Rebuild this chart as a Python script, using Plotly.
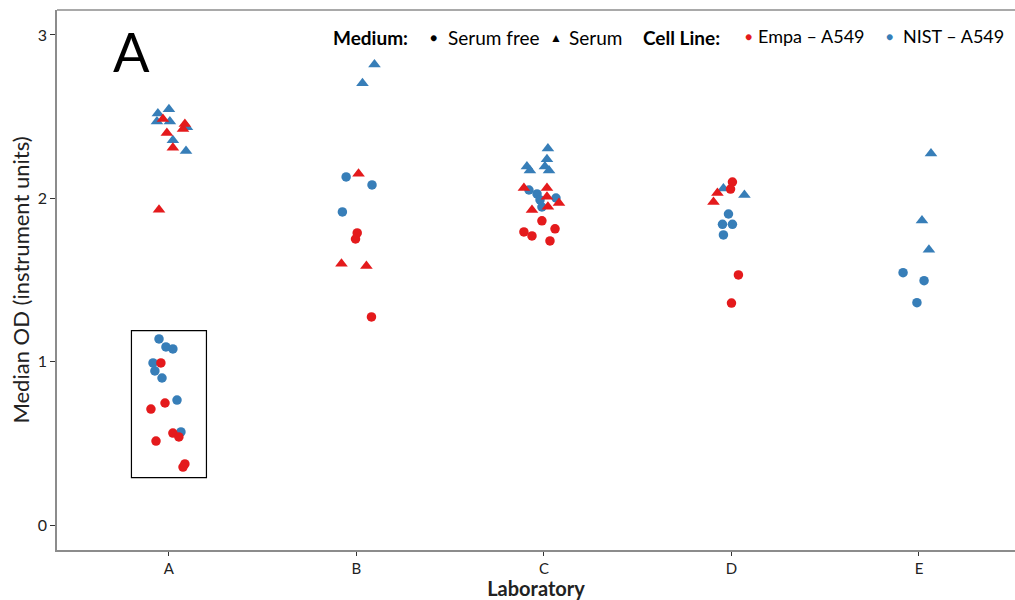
import plotly.graph_objects as go

labs = ["A", "B", "C", "D", "E"]

# NIST - A549, Serum (triangles)
nist_serum_lab = ["A","A","A","A","A","A","A","B","B","C","C","C","C","C","C","D","D","E","E","E"]
nist_serum_jit = [-0.059,0.0,-0.064,0.005,0.096,0.021,0.091,0.096,0.032,0.021,-0.091,-0.075,0.016,0.005,0.027,-0.043,0.069,0.064,0.016,0.053]
nist_serum_od = [2.52,2.545,2.47,2.47,2.435,2.355,2.29,2.82,2.705,2.305,2.195,2.17,2.24,2.195,2.17,2.06,2.02,2.275,1.865,1.685]

# NIST - A549, Serum free (circles)
nist_free_lab = ["A","A","A","A","A","A","A","A","B","B","B","C","C","C","C","C","D","D","D","D","E","E","E"]
nist_free_jit = [-0.053,-0.016,0.021,-0.085,-0.075,-0.037,0.043,0.064,-0.055,0.083,-0.075,-0.08,-0.037,-0.021,-0.011,0.064,-0.016,-0.048,0.005,-0.043,-0.085,0.027,-0.011]
nist_free_od = [1.139,1.09,1.078,0.992,0.943,0.9,0.765,0.57,2.131,2.082,1.917,2.051,2.027,1.99,1.947,2.002,1.904,1.841,1.841,1.776,1.545,1.496,1.361]

# Empa - A549, Serum (triangles)
empa_serum_lab = ["A","A","A","A","A","A","B","B","B","C","C","C","C","C","C","D","D"]
empa_serum_jit = [-0.032,-0.011,0.075,0.085,0.021,-0.053,0.011,-0.08,0.053,-0.107,0.016,0.016,0.08,-0.064,0.021,-0.075,-0.096]
empa_serum_od = [2.485,2.40,2.425,2.455,2.31,1.93,2.15,1.60,1.585,2.064,2.064,2.009,1.972,1.929,1.948,2.033,1.978]

# Empa - A549, Serum free (circles)
empa_free_lab = ["A","A","A","A","A","A","A","A","B","B","B","C","C","C","C","C","D","D","D","D"]
empa_free_jit = [-0.043,-0.021,-0.096,0.021,0.053,-0.069,0.085,0.075,0.004,-0.005,0.08,-0.011,-0.107,-0.064,0.059,0.032,0.005,-0.005,0.037,0.0]
empa_free_od = [0.992,0.747,0.71,0.563,0.539,0.514,0.374,0.355,1.788,1.751,1.274,1.862,1.794,1.77,1.813,1.739,2.10,2.057,1.531,1.359]

RED = "#E41A1C"
BLUE = "#377EB8"

def xpos(lab_list, jit_list):
    return [labs.index(l) + j for l, j in zip(lab_list, jit_list)]

fig = go.Figure()
fig.add_trace(go.Scatter(x=xpos(nist_serum_lab, nist_serum_jit), y=nist_serum_od, mode="markers",
                         marker=dict(symbol="triangle-up", size=11, color=BLUE), showlegend=False))
fig.add_trace(go.Scatter(x=xpos(nist_free_lab, nist_free_jit), y=nist_free_od, mode="markers",
                         marker=dict(symbol="circle", size=9.5, color=BLUE), showlegend=False))
fig.add_trace(go.Scatter(x=xpos(empa_serum_lab, empa_serum_jit), y=empa_serum_od, mode="markers",
                         marker=dict(symbol="triangle-up", size=11, color=RED), showlegend=False))
fig.add_trace(go.Scatter(x=xpos(empa_free_lab, empa_free_jit), y=empa_free_od, mode="markers",
                         marker=dict(symbol="circle", size=9.5, color=RED), showlegend=False))

# highlight box around lab A serum-free values
fig.add_shape(type="rect", xref="x", yref="y", x0=-0.2, x1=0.2, y0=0.29, y1=1.19,
              line=dict(color="black", width=1.2), fillcolor="rgba(0,0,0,0)")
# top frame line
fig.add_shape(type="line", xref="paper", yref="paper", x0=0, x1=1, y0=1, y1=1,
              line=dict(color="#8c8c8c", width=1.5))

FONT = "Lato"
fig.add_annotation(text="A", xref="paper", yref="paper", x=(111 - 57) / 958, y=(550 - 52) / 540,
                   xanchor="left", yanchor="middle", showarrow=False,
                   font=dict(family=FONT, size=54, color="black"))

def txt(s, px, py, size=18, color="black"):
    fig.add_annotation(text=s, xref="paper", yref="paper", x=(px - 57) / 958, y=(550 - py) / 540,
                       xanchor="left", yanchor="middle", showarrow=False,
                       font=dict(family=FONT, size=size, color=color))

txt("<b>Medium:</b>", 331, 38, size=19)
txt("●", 428, 38, size=12)
txt("Serum free", 446, 38, size=19)
txt("▲", 548, 37, size=12)
txt("Serum", 567, 38, size=19)
txt("<b>Cell Line:</b>", 641, 38, size=19)
txt("●", 743, 36, size=12, color=RED)
txt("Empa – A549", 756, 36)
txt("●", 884, 36, size=12, color=BLUE)
txt("NIST – A549", 901, 36)

fig.update_layout(
    width=1015, height=600,
    margin=dict(l=57, r=0, t=10, b=50),
    paper_bgcolor="white", plot_bgcolor="white",
    font=dict(family=FONT, size=16, color="#222"),
    xaxis=dict(range=[-0.597, 4.512], tickvals=list(range(len(labs))), ticktext=labs,
               showgrid=False, zeroline=False, showline=True, linecolor="#8c8c8c", linewidth=1.5,
               ticks="outside", ticklen=4, tickcolor="#333", tickwidth=1,
               tickfont=dict(size=15, color="#222"),
               title=dict(text="<b>Laboratory</b>", font=dict(size=20, color="#222"), standoff=4)),
    yaxis=dict(range=[-0.153, 3.153], tickvals=[0, 1, 2, 3], ticktext=["0", "1", "2", "3"],
               showgrid=False, zeroline=False, showline=True, linecolor="#8c8c8c", linewidth=1.5,
               ticks="outside", ticklen=5, tickcolor="#333", tickwidth=1,
               tickfont=dict(size=16, color="#222"),
               title=dict(text="Median OD (instrument units)", font=dict(size=22, color="#222"), standoff=2)),
)

fig.write_html("out.html")
